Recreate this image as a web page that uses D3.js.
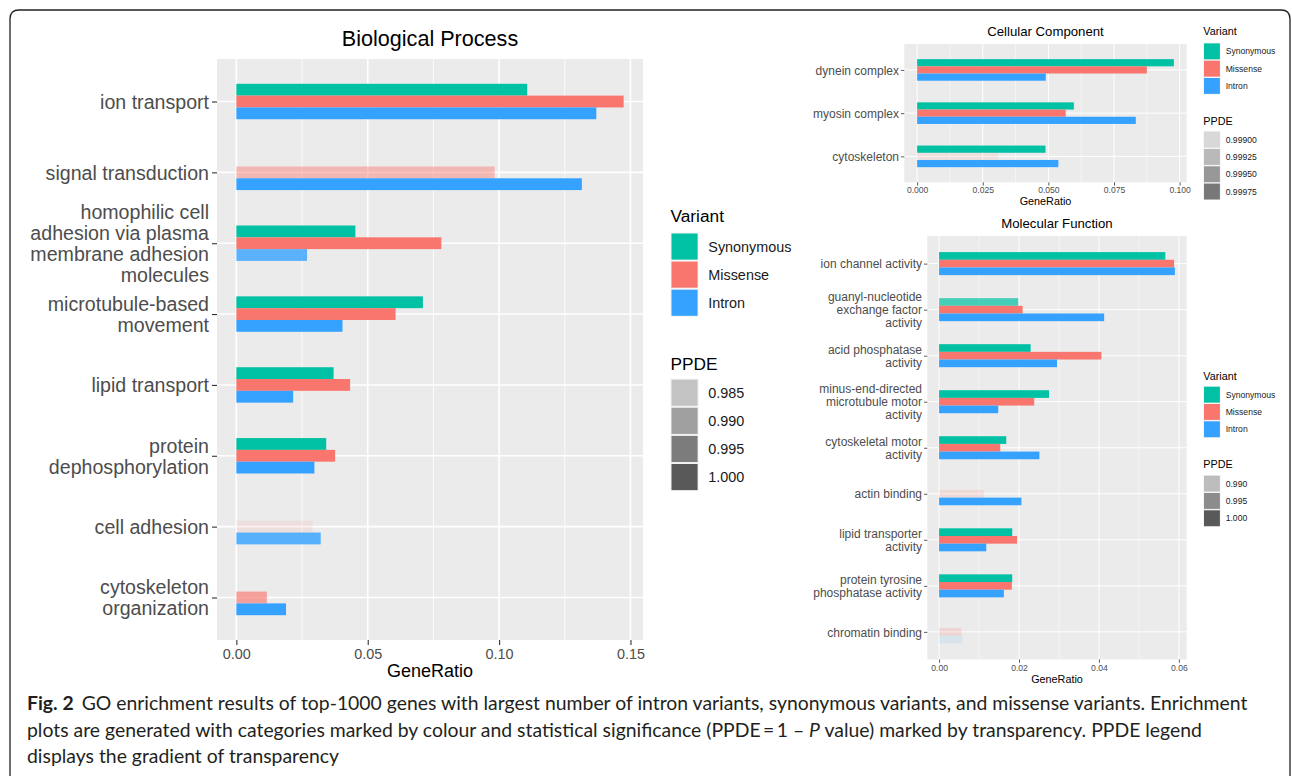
<!DOCTYPE html>
<html><head><meta charset="utf-8">
<script src="https://cdn.jsdelivr.net/npm/d3@7"></script>
<style>html,body{margin:0;padding:0;background:#fff;} svg{display:block;}</style>
</head><body>
<svg id="chart" width="1292" height="776"></svg>
<script>
// ================= DATA =================
const variants = ["Synonymous", "Missense", "Intron"];
const variantColors = ["#00C1A3", "#F8766D", "#35A2FF"];

// Biological Process
const bpCategories = ["ion transport", "signal transduction",
  "homophilic cell\nadhesion via plasma\nmembrane adhesion\nmolecules",
  "microtubule-based\nmovement", "lipid transport", "protein\ndephosphorylation",
  "cell adhesion", "cytoskeleton\norganization"];
const bpSynonymous = [0.1107, null, 0.0453, 0.0710, 0.0370, 0.0342, null, null];
const bpMissense   = [0.1474, 0.0983, 0.0780, 0.0606, 0.0433, 0.0376, 0.0290, 0.0116];
const bpIntron     = [0.1370, 0.1315, 0.0269, 0.0404, 0.0216, 0.0297, 0.0321, 0.0189];
const bpPpdeSynonymous = [1.000, null, 1.000, 1.000, 1.000, 1.000, null, null];
const bpPpdeMissense   = [1.000, 0.9880, 1.000, 1.000, 1.000, 1.000, 0.9804, 0.9922];
const bpPpdeIntron     = [1.000, 1.000, 0.9955, 1.000, 1.000, 1.000, 0.9961, 1.000];
const bpTicks = [0, 0.05, 0.10, 0.15];
const bpTickLabels = ["0.00", "0.05", "0.10", "0.15"];
const bpPpdeBreaks = [0.985, 0.990, 0.995, 1.000];
const bpPpdeLabels = ["0.985", "0.990", "0.995", "1.000"];

// Cellular Component
const ccCategories = ["dynein complex", "myosin complex", "cytoskeleton"];
const ccSynonymous = [0.0978, 0.0597, 0.0489];
const ccMissense   = [0.0875, 0.0566, 0.0308];
const ccIntron     = [0.0490, 0.0833, 0.0538];
const ccPpdeSynonymous = [0.99999, 0.99999, 0.99999];
const ccPpdeMissense   = [0.99999, 0.99999, 0.99892];
const ccPpdeIntron     = [0.99999, 0.99999, 0.99999];
const ccTicks = [0, 0.025, 0.05, 0.075, 0.10];
const ccTickLabels = ["0.000", "0.025", "0.050", "0.075", "0.100"];
const ccPpdeBreaks = [0.99900, 0.99925, 0.99950, 0.99975];
const ccPpdeLabels = ["0.99900", "0.99925", "0.99950", "0.99975"];

// Molecular Function
const mfCategories = ["ion channel activity", "guanyl-nucleotide\nexchange factor\nactivity",
  "acid phosphatase\nactivity", "minus-end-directed\nmicrotubule motor\nactivity",
  "cytoskeletal motor\nactivity", "actin binding", "lipid transporter\nactivity",
  "protein tyrosine\nphosphatase activity", "chromatin binding"];
const mfSynonymous = [0.0566, 0.0198, 0.0229, 0.0275, 0.0168, null, 0.0183, 0.0183, null];
const mfMissense   = [0.0588, 0.0209, 0.0406, 0.0238, 0.0153, 0.0112, 0.0195, 0.0182, 0.0056];
const mfIntron     = [0.0590, 0.0413, 0.0295, 0.0148, 0.0251, 0.0206, 0.0118, 0.0162, 0.0058];
const mfPpdeSynonymous = [1.000, 0.99545, 1.000, 1.000, 1.000, null, 1.000, 1.000, null];
const mfPpdeMissense   = [1.000, 1.000, 1.000, 1.000, 1.000, 0.98712, 1.000, 1.000, 0.98757];
const mfPpdeIntron     = [1.000, 1.000, 1.000, 1.000, 1.000, 1.000, 1.000, 1.000, 0.98636];
const mfTicks = [0, 0.02, 0.04, 0.06];
const mfTickLabels = ["0.00", "0.02", "0.04", "0.06"];
const mfPpdeBreaks = [0.990, 0.995, 1.000];
const mfPpdeLabels = ["0.990", "0.995", "1.000"];

const captionBold = "Fig. 2";
const captionLine1 = "GO enrichment results of top-1000 genes with largest number of intron variants, synonymous variants, and missense variants. Enrichment";
const captionLine2a = "plots are generated with categories marked by colour and statistical significance (PPDE\u2009=\u20091 \u2013 ";
const captionLine2b = "P";
const captionLine2c = " value) marked by transparency. PPDE legend";
const captionLine3 = "displays the gradient of transparency";

// ================= DRAWING =================
const svg = d3.select("#chart");
const FONT = "'Liberation Sans', Arial, Helvetica, sans-serif";

function drawPanel(p) {
  const g = svg.append("g");
  const all = p.series.flat().filter(v => v != null);
  const vmax = d3.max(all);
  const x = d3.scaleLinear().domain([-0.05 * vmax, 1.05 * vmax]).range([p.left, p.right]);
  const y = d3.scalePoint().domain(p.cats).range([p.top, p.bottom]).padding(0.6);
  const slot = d3.scaleBand().domain(variants).range([-0.25 * y.step(), 0.25 * y.step()]);
  const alpha = d3.scaleLinear().domain(d3.extent(p.ppde.flat().filter(v => v != null))).range([0.1, 1]);

  g.append("rect").attr("x", p.left).attr("y", p.top)
    .attr("width", p.right - p.left).attr("height", p.bottom - p.top).attr("fill", "#EBEBEB");
  const minor = d3.pairs(p.ticks).map(([a, b]) => (a + b) / 2);
  g.append("g").selectAll("line").data(minor).join("line")
    .attr("x1", d => x(d)).attr("x2", d => x(d)).attr("y1", p.top).attr("y2", p.bottom)
    .attr("stroke", "#fff").attr("stroke-width", p.minorW);
  g.append("g").selectAll("line").data(p.ticks).join("line")
    .attr("x1", d => x(d)).attr("x2", d => x(d)).attr("y1", p.top).attr("y2", p.bottom)
    .attr("stroke", "#fff").attr("stroke-width", p.majorW);
  g.append("g").selectAll("line").data(p.cats).join("line")
    .attr("x1", p.left).attr("x2", p.right).attr("y1", d => y(d)).attr("y2", d => y(d))
    .attr("stroke", "#fff").attr("stroke-width", p.majorW);

  const bars = [];
  p.cats.forEach((c, i) => variants.forEach((v, j) => {
    if (p.series[j][i] != null) bars.push({ c, v, j, val: p.series[j][i], pp: p.ppde[j][i] });
  }));
  g.append("g").selectAll("rect").data(bars).join("rect")
    .attr("x", x(0)).attr("y", d => y(d.c) + slot(d.v))
    .attr("width", d => x(d.val) - x(0)).attr("height", slot.bandwidth())
    .attr("fill", d => variantColors[d.j]).attr("fill-opacity", d => alpha(d.pp));

  const xa = g.append("g").attr("transform", `translate(0,${p.bottom})`)
    .call(d3.axisBottom(x).tickValues(p.ticks).tickFormat((d, i) => p.tickLabels[i])
      .tickSize(p.tickLen).tickPadding(p.xPad));
  xa.select(".domain").remove();
  xa.attr("font-family", FONT).attr("font-size", p.xFs);
  xa.selectAll("line").attr("stroke", "#333").attr("stroke-width", p.tickW);
  xa.selectAll("text").attr("fill", "#4D4D4D");

  const ya = g.append("g").attr("transform", `translate(${p.left},0)`)
    .call(d3.axisLeft(y).tickSize(p.tickLen).tickPadding(p.yPad));
  ya.select(".domain").remove();
  ya.attr("font-family", FONT).attr("font-size", p.yFs);
  ya.selectAll("line").attr("stroke", "#333").attr("stroke-width", p.tickW);
  ya.selectAll("text").attr("fill", "#4D4D4D").each(function (d) {
    const t = d3.select(this);
    const lines = d.split("\n");
    t.text(null).attr("dy", null);
    lines.forEach((l, k) => t.append("tspan").attr("x", -(p.tickLen + p.yPad))
      .attr("dy", (k === 0 ? (0.35 * p.yFs - (lines.length - 1) / 2 * p.yLh) : p.yLh) + "px").text(l));
  });

  svg.append("text").attr("x", (p.left + p.right) / 2).attr("y", p.titleBase)
    .attr("text-anchor", "middle").attr("font-family", FONT).attr("font-size", p.titleFs)
    .attr("fill", "#000").text(p.title);
  svg.append("text").attr("x", (p.left + p.right) / 2).attr("y", p.axisTitleBase)
    .attr("text-anchor", "middle").attr("font-family", FONT).attr("font-size", p.axisTitleFs)
    .attr("fill", "#000").text("GeneRatio");

  // legends
  const L = p.legend;
  function legendBlock(title, titleBase, keyTop, items) {
    const lg = svg.append("g");
    lg.append("text").attr("x", L.x).attr("y", titleBase).attr("font-family", FONT)
      .attr("font-size", L.titleFs).attr("fill", "#000").text(title);
    const rows = lg.selectAll("g").data(items).join("g")
      .attr("transform", (d, i) => `translate(${L.x},${keyTop + i * L.step})`);
    rows.append("rect").attr("width", L.step).attr("height", L.step).attr("fill", "#F2F2F2");
    rows.append("rect").attr("x", L.inset).attr("y", L.inset)
      .attr("width", L.step - 2 * L.inset).attr("height", L.step - 2 * L.inset)
      .attr("fill", d => d.fill).attr("fill-opacity", d => d.a);
    rows.append("text").attr("x", L.labelX - L.x).attr("y", L.step / 2 + 0.35 * L.labelFs)
      .attr("font-family", FONT).attr("font-size", L.labelFs).attr("fill", "#1a1a1a").text(d => d.label);
  }
  legendBlock("Variant", L.vTitleBase, L.vKeyTop,
    variants.map((v, i) => ({ label: v, fill: variantColors[i], a: 1 })));
  legendBlock("PPDE", L.pTitleBase, L.pKeyTop,
    p.ppdeBreaks.map((b, i) => ({ label: p.ppdeLabels[i], fill: "#595959", a: alpha(b) })));
}

drawPanel({
  title: "Biological Process", cats: bpCategories,
  series: [bpSynonymous, bpMissense, bpIntron],
  ppde: [bpPpdeSynonymous, bpPpdeMissense, bpPpdeIntron],
  ticks: bpTicks, tickLabels: bpTickLabels, ppdeBreaks: bpPpdeBreaks, ppdeLabels: bpPpdeLabels,
  left: 217, right: 643, top: 59, bottom: 640,
  tickLen: 5, tickW: 1.1, xPad: 3.3, yPad: 3, xFs: 14.4, yFs: 19.6, yLh: 21.2,
  titleFs: 21.6, titleBase: 45.7, axisTitleFs: 18, axisTitleBase: 677.3,
  majorW: 1.6, minorW: 0.8,
  legend: { x: 670.5, step: 28.1, inset: 1, labelX: 708.3, titleFs: 17.3, labelFs: 14.4,
    vTitleBase: 221.7, vKeyTop: 232.5, pTitleBase: 370, pKeyTop: 378.7 }
});

drawPanel({
  title: "Cellular Component", cats: ccCategories,
  series: [ccSynonymous, ccMissense, ccIntron],
  ppde: [ccPpdeSynonymous, ccPpdeMissense, ccPpdeIntron],
  ticks: ccTicks, tickLabels: ccTickLabels, ppdeBreaks: ccPpdeBreaks, ppdeLabels: ccPpdeLabels,
  left: 904.3, right: 1186.7, top: 44, bottom: 182.3,
  tickLen: 3.3, tickW: 0.8, xPad: 1, yPad: 2, xFs: 8.6, yFs: 12, yLh: 13,
  titleFs: 13.2, titleBase: 36, axisTitleFs: 10.8, axisTitleBase: 204.5,
  majorW: 1, minorW: 0.5,
  legend: { x: 1203.3, step: 17.3, inset: 0.7, labelX: 1225.7, titleFs: 10.8, labelFs: 8.6,
    vTitleBase: 35, vKeyTop: 42.7, pTitleBase: 125, pKeyTop: 131 }
});

drawPanel({
  title: "Molecular Function", cats: mfCategories,
  series: [mfSynonymous, mfMissense, mfIntron],
  ppde: [mfPpdeSynonymous, mfPpdeMissense, mfPpdeIntron],
  ticks: mfTicks, tickLabels: mfTickLabels, ppdeBreaks: mfPpdeBreaks, ppdeLabels: mfPpdeLabels,
  left: 927.3, right: 1186.7, top: 236, bottom: 659.5,
  tickLen: 3.3, tickW: 0.8, xPad: 2, yPad: 2, xFs: 8.6, yFs: 12, yLh: 13,
  titleFs: 13.2, titleBase: 227.7, axisTitleFs: 10.8, axisTitleBase: 682.7,
  majorW: 1, minorW: 0.5,
  legend: { x: 1203.3, step: 17.3, inset: 0.7, labelX: 1225.7, titleFs: 10.8, labelFs: 8.6,
    vTitleBase: 379.7, vKeyTop: 386, pTitleBase: 468.3, pKeyTop: 475 }
});

// frame
svg.append("path").attr("d", "M10,800 V19 Q10,10 19,10 H1281 Q1290,10 1290,19 V800")
  .attr("fill", "none").attr("stroke", "#231F20").attr("stroke-width", 1.3);

// caption
const CAP = "Lato, 'Open Sans', 'Noto Sans', sans-serif";
const cap = svg.append("g").attr("font-family", CAP).attr("fill", "#231F20");
const l1 = cap.append("text").attr("x", 27).attr("y", 710);
l1.append("tspan").attr("font-weight", "bold").text(captionBold);
l1.append("tspan").attr("dx", 8).text(captionLine1);
const l2 = cap.append("text").attr("x", 27).attr("y", 736.5);
l2.append("tspan").text(captionLine2a);
l2.append("tspan").attr("font-style", "italic").text(captionLine2b);
l2.append("tspan").text(captionLine2c);
cap.append("text").attr("x", 27).attr("y", 763).text(captionLine3);
cap.attr("font-size", 18);
const w1 = l1.node().getComputedTextLength();
const fs = 18 * (1213 / w1);
cap.attr("font-size", fs);
</script>
</body></html>
